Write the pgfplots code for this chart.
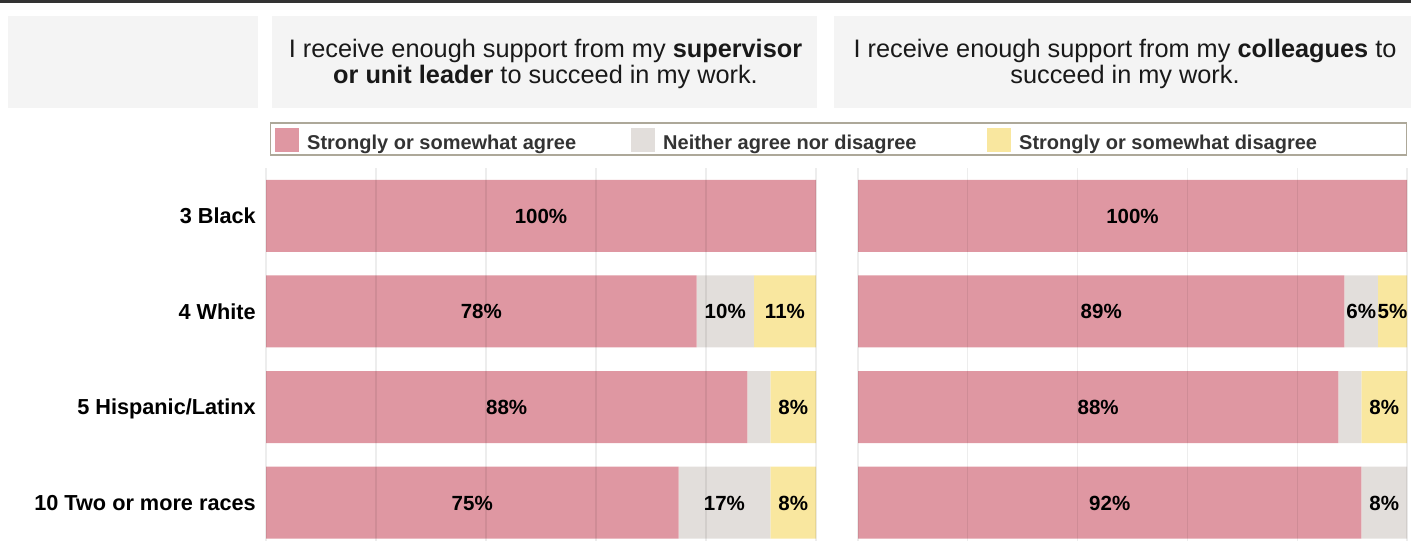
\documentclass[border=0pt]{standalone}
\usepackage{fontspec}
\setmainfont{Liberation Sans}
\usepackage{pgfplots}
\usepackage{pgfplotstable}
\pgfplotsset{compat=1.18}
\definecolor{agree}{HTML}{DF97A2}
\definecolor{neither}{HTML}{E2DEDB}
\definecolor{disagree}{HTML}{F9E79F}
\definecolor{hdr}{HTML}{F4F4F4}
\definecolor{legframe}{HTML}{ADA899}
\definecolor{topbar}{HTML}{333333}
\definecolor{legtext}{HTML}{333333}

\pgfplotstableread{
row agree neither disagree
0 100  0    0
1 78.3 10.4 11.3
2 87.5 4.2  8.3
3 75.0 16.7 8.3
}\supervisor
\pgfplotstableread{
row agree neither disagree
0 100  0    0
1 88.6 6.1  5.3
2 87.5 4.2  8.3
3 91.7 8.3  0
}\colleagues
\pgfplotstableread{
x row label
50    0 100
39.15 1 78
83.5  1 10
94.35 1 11
43.75 2 88
95.85 2 8
37.5  3 75
83.35 3 17
95.85 3 8
}\suplabels
\pgfplotstableread{
x row label
50    0 100
44.3  1 89
91.65 1 6
97.35 1 5
43.75 2 88
95.85 2 8
45.85 3 92
95.85 3 8
}\collabels

\pgfplotsset{
  panel/.style={
    scale only axis, height=373pt,
    xmin=0, xmax=100, ymin=-0.5, ymax=3.4, y dir=reverse,
    axis line style={draw=none}, tick style={draw=none},
    xtick={0,20,40,60,80,100}, xticklabels={},
    ytick={0,1,2,3},
  },
  barpanel/.style={
    panel, xbar stacked, bar width=72pt,
    xmajorgrids, grid style={draw=black, opacity=0.07, line width=1.2pt},
    axis on top,
    legend image code/.code={\path[##1,draw=none] (0pt,-5pt) rectangle (24pt,19pt);},
  },
  labpanel/.style={
    panel, hide axis,
  },
  lab/.style={draw=none, mark=none,
    nodes near coords={\pgfplotspointmeta\%},
    point meta=explicit symbolic,
    every node near coord/.style={anchor=center, inner sep=0pt, text=black,
      text height=14.7pt, text depth=0pt,
      font=\fontsize{20.5}{24}\selectfont\bfseries},
  },
}
\newcommand{\legtxt}[1]{\hspace*{8pt}\raisebox{8.5pt}{\makebox[324pt][l]{#1}}}

\begin{document}
\begin{tikzpicture}
\useasboundingbox (0,0) rectangle (1411pt,541pt);
\fill[topbar] (0,538pt) rectangle (1411pt,541pt);
\fill[hdr] (8pt,433pt) rectangle (258pt,525pt);
\fill[hdr] (272pt,433pt) rectangle (817pt,525pt);
\fill[hdr] (834pt,433pt) rectangle (1411pt,525pt);
\node[align=center, text=black!90, font=\fontsize{25.3}{26}\selectfont, inner sep=0pt] at (545.5pt,477pt)
  {I receive enough support from my \textbf{supervisor}\\\textbf{or unit leader} to succeed in my work.};
\node[align=center, text=black!90, font=\fontsize{25.3}{26}\selectfont, inner sep=0pt] at (1125pt,477pt)
  {I receive enough support from my \textbf{colleagues} to\\succeed in my work.};
\draw[legframe, line width=1.3pt] (270.5pt,386pt) rectangle (1406.5pt,418pt);

\begin{axis}[barpanel, at={(266pt,0pt)}, anchor=south west, width=550pt,
  yticklabels={3 Black, 4 White, 5 Hispanic/Latinx, 10 Two or more races},
  yticklabel style={anchor=east, inner sep=0pt, xshift=-10pt, text=black,
    text height=15.6pt, text depth=0pt,
    font=\fontsize{21.7}{24}\selectfont\bfseries},
  legend columns=3, legend cell align=left,
  legend style={at={(axis description cs:0.01636,1.10724)}, anchor=north west,
    draw=none, fill=none, inner sep=0pt, column sep=0pt,
    nodes={inner sep=0pt}, text=legtext,
    font=\fontsize{20}{24}\selectfont\bfseries},
]
\addplot[fill=agree, draw=none] table[x=agree, y=row] {\supervisor};
\addlegendentry{\legtxt{Strongly or somewhat agree}}
\addplot[fill=neither, draw=none] table[x=neither, y=row] {\supervisor};
\addlegendentry{\legtxt{Neither agree nor disagree}}
\addplot[fill=disagree, draw=none] table[x=disagree, y=row] {\supervisor};
\addlegendentry{\legtxt{Strongly or somewhat disagree}}
\end{axis}
\begin{axis}[labpanel, at={(266pt,0pt)}, anchor=south west, width=550pt]
\addplot[lab] table[x=x, y=row, meta=label] {\suplabels};
\end{axis}

\begin{axis}[barpanel, at={(858pt,0pt)}, anchor=south west, width=549pt,
  yticklabels={}]
\addplot[fill=agree, draw=none] table[x=agree, y=row] {\colleagues};
\addplot[fill=neither, draw=none] table[x=neither, y=row] {\colleagues};
\addplot[fill=disagree, draw=none] table[x=disagree, y=row] {\colleagues};
\end{axis}
\begin{axis}[labpanel, at={(858pt,0pt)}, anchor=south west, width=549pt]
\addplot[lab] table[x=x, y=row, meta=label] {\collabels};
\end{axis}
\end{tikzpicture}
\end{document}
